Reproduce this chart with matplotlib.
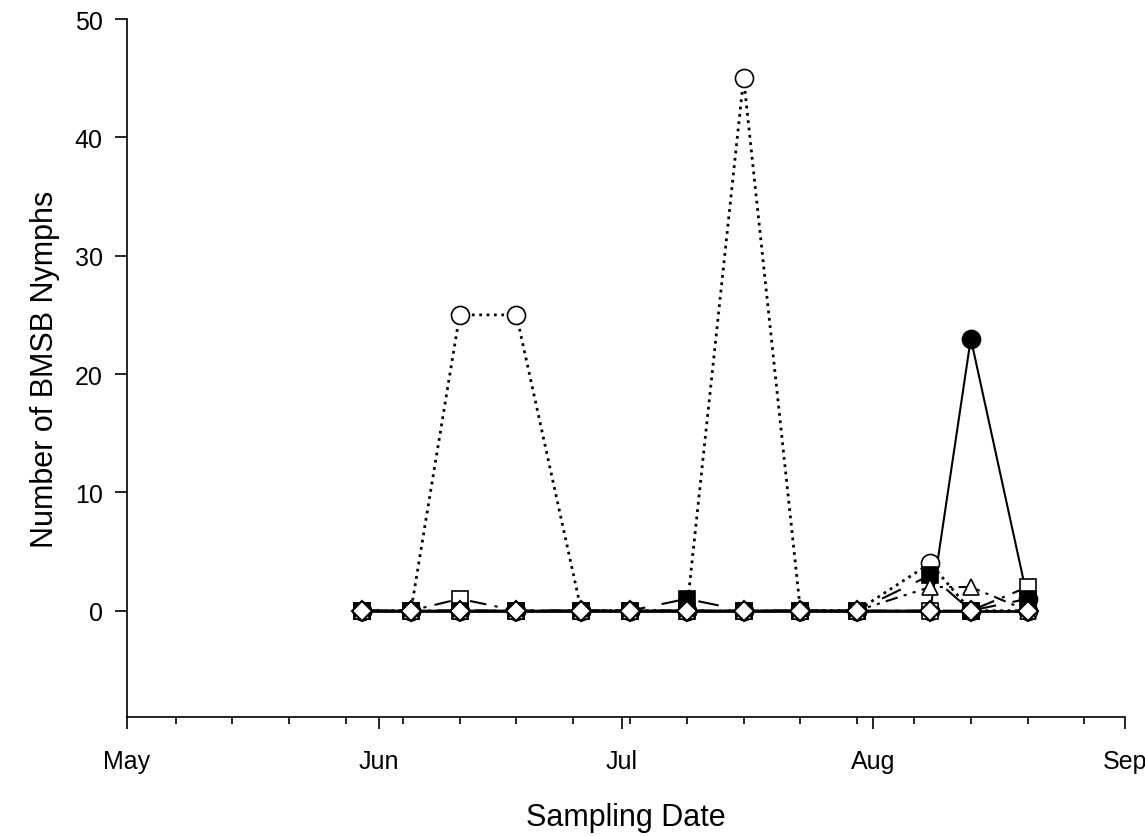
import datetime as dt
import matplotlib
matplotlib.use("Agg")
import matplotlib.pyplot as plt
import matplotlib.dates as mdates

plt.rcParams["font.family"] = ["Liberation Sans", "DejaVu Sans"]

# sampling dates
dates = [dt.date(2013, 5, 30), dt.date(2013, 6, 5), dt.date(2013, 6, 11),
         dt.date(2013, 6, 18), dt.date(2013, 6, 26), dt.date(2013, 7, 2),
         dt.date(2013, 7, 9), dt.date(2013, 7, 16), dt.date(2013, 7, 23),
         dt.date(2013, 7, 30), dt.date(2013, 8, 8), dt.date(2013, 8, 13),
         dt.date(2013, 8, 20)]

# nymph counts per series
filled_circle = [0, 0, 0, 0, 0, 0, 0, 0, 0, 0, 0, 23, 1]
open_circle = [0, 0, 25, 25, 0, 0, 0, 45, 0, 0, 4, 0, 0]
open_square = [0, 0, 1, 0, 0, 0, 0, 0, 0, 0, 0, 0, 2]
filled_square = [0, 0, 0, 0, 0, 0, 1, 0, 0, 0, 3, 0, 1]
open_triangle = [0, 0, 0, 0, 0, 0, 0, 0, 0, 0, 2, 2, 0]
open_diamond = [0, 0, 0, 0, 0, 0, 0, 0, 0, 0, 0, 0, 0]

fig = plt.figure(figsize=(11.45, 8.37), dpi=100)
ax = fig.add_axes([0.1109, 0.142, 0.8716, 0.834])

lw = 1.5
ax.plot(dates, filled_circle, "-", color="black", lw=lw, marker="o", ms=13,
        mfc="black", mec="black", mew=1.2, zorder=2)
ax.plot(dates, open_circle, ":", color="black", lw=2, marker="o", ms=13,
        mfc="white", mec="black", mew=1.2, zorder=3)
ax.plot(dates, open_square, color="black", lw=lw, dashes=(8, 4, 1.5, 4),
        marker="s", ms=11, mfc="white", mec="black", mew=1.2, zorder=4)
ax.plot(dates, filled_square, color="black", lw=lw, dashes=(10, 8),
        marker="s", ms=11, mfc="black", mec="black", mew=1.2, zorder=5)
ax.plot(dates, open_triangle, color="black", lw=lw, dashes=(6, 3, 1.5, 3, 1.5, 3),
        marker="^", ms=12, mfc="white", mec="black", mew=1.2, zorder=6)
ax.plot(dates, open_diamond, "-", color="black", lw=2, marker="D", ms=10,
        mfc="white", mec="black", mew=1.5, zorder=7)

ax.set_xlim(dt.date(2013, 5, 1), dt.date(2013, 9, 1))
ax.set_ylim(-9, 50)
ax.set_yticks([0, 10, 20, 30, 40, 50])

ax.xaxis.set_major_locator(mdates.MonthLocator())
ax.xaxis.set_major_formatter(mdates.DateFormatter("%b"))
ax.xaxis.set_minor_locator(mdates.WeekdayLocator(byweekday=mdates.TU))

for side in ["top", "right"]:
    ax.spines[side].set_visible(False)
for side in ["left", "bottom"]:
    ax.spines[side].set_linewidth(1.2)

ax.tick_params(axis="y", which="major", direction="out", length=8.6,
               width=1.2, labelsize=18, pad=9)
ax.tick_params(axis="x", which="major", direction="out", length=8.6,
               width=1.2, labelsize=18, pad=14)
ax.tick_params(axis="x", which="minor", direction="out", length=5, width=1.2)

ax.set_xlabel("Sampling Date", fontsize=22)
ax.set_ylabel("Number of BMSB Nymphs", fontsize=22)
ax.xaxis.set_label_coords(0.5, -0.122)
ax.yaxis.set_label_coords(-0.067, 0.5)

fig.savefig("out.png", dpi=100)
